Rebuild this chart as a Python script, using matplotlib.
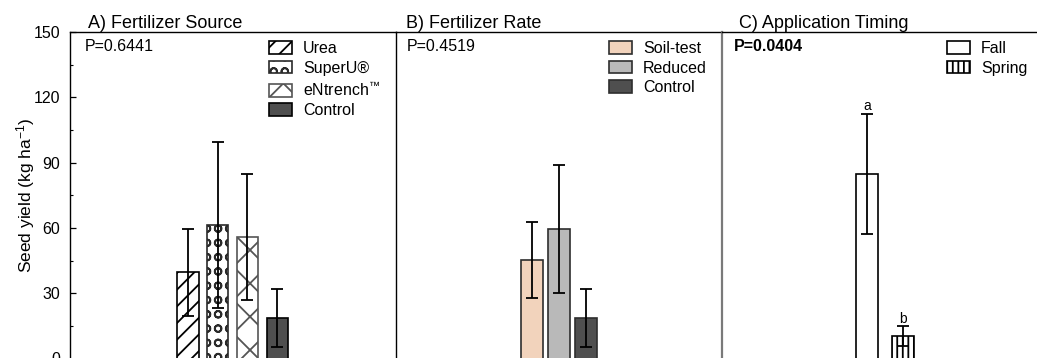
import matplotlib
matplotlib.use("Agg")
import numpy as np
import matplotlib.pyplot as plt
import matplotlib.hatch as mhatch
from matplotlib.path import Path
from matplotlib.patches import Patch
from matplotlib.ticker import MultipleLocator

plt.rcParams['font.family'] = ['Liberation Sans', 'DejaVu Sans']
plt.rcParams['mathtext.fontset'] = 'custom'
plt.rcParams['mathtext.rm'] = 'Liberation Sans'
plt.rcParams['mathtext.it'] = 'Liberation Sans:italic'
plt.rcParams['mathtext.bf'] = 'Liberation Sans:bold'
plt.rcParams['hatch.linewidth'] = 1.3


class ColumnCircles(mhatch.HatchPatternBase):
    """Hollow circles on a regular (non-staggered) grid for the 'o' hatch."""
    n_rows = 7
    n_cols = 9
    radius = 0.034
    shift = (0.07, 0.0)

    def __init__(self, hatch, density):
        circle = Path.unit_circle()
        self.shape_vertices = circle.vertices
        self.shape_codes = circle.codes
        self.active = hatch.count('o') > 0
        n_shapes = (self.n_rows + 3) * (self.n_cols + 3) if self.active else 0
        self.num_vertices = n_shapes * len(self.shape_vertices) * 2

    def set_vertices_and_codes(self, vertices, codes):
        ring = np.concatenate([self.shape_vertices * self.radius,
                               self.shape_vertices[::-1] * self.radius * 0.9])
        ring_codes = np.concatenate([self.shape_codes, self.shape_codes])
        vparts, cparts = [], []
        for i in range(-1, self.n_rows + 2):
            r = i / self.n_rows + self.shift[1]
            for j in range(-1, self.n_cols + 2):
                c = j / self.n_cols + self.shift[0]
                vparts.append(ring + (c, r))
                cparts.append(ring_codes)
        np.concatenate(vparts, out=vertices)
        np.concatenate(cparts, out=codes)


mhatch._hatch_types = [ColumnCircles if t is mhatch.SmallCircles else t
                       for t in mhatch._hatch_types]

# Seed yield means and standard errors (kg ha-1)
source_labels = ["Urea", "SuperU®", "eNtrench$^{™}$", "Control"]
source_means = [39.6, 61.3, 55.9, 18.5]
source_err = [20.1, 38.3, 28.8, 13.4]

rate_labels = ["Soil-test", "Reduced", "Control"]
rate_means = [45.1, 59.5, 18.5]
rate_err = [17.5, 29.5, 13.4]

timing_labels = ["Fall", "Spring"]
timing_means = [84.8, 10.3]
timing_err = [27.6, 4.6]
timing_letters = ["a", "b"]

p_values = ["P=0.6441", "P=0.4519", "P=0.0404"]
panel_titles = ["A) Fertilizer Source", "B) Fertilizer Rate", "C) Application Timing"]
y_ticks = [0, 30, 60, 90, 120, 150]

W, H = 1037, 358
fig = plt.figure(figsize=(W / 100, H / 100), dpi=100)


def make_axes(x0):
    return fig.add_axes([x0 / W, (H - 358.5) / H, 326 / W, 326.5 / H])


axA = make_axes(70)
axB = make_axes(396)
axC = make_axes(722)

FS = 11.5

for ax in (axA, axB, axC):
    ax.set_ylim(0, 150)
    ax.spines['right'].set_visible(False)
    ax.spines['bottom'].set_visible(False)
    ax.spines['top'].set_linewidth(1.0)
    ax.set_xticks([])
    ax.patch.set_alpha(0)

axA.set_yticks(y_ticks)
axA.yaxis.set_minor_locator(MultipleLocator(15))
axA.tick_params(axis='y', which='major', direction='in', length=4, width=0.9,
                labelsize=FS, pad=7)
axA.tick_params(axis='y', which='minor', direction='in', length=2.5, width=0.8)
axA.spines['left'].set_linewidth(1.0)
axA.set_ylabel("Seed yield (kg ha$^{-1}$)", fontsize=12.5)
axA.yaxis.set_label_coords(-0.102, 0.5)

for ax in (axB, axC):
    ax.set_yticks([])
    ax.tick_params(axis='y', which='both', left=False, labelleft=False)
axB.spines['left'].set_linewidth(1.0)
axC.spines['left'].set_color('#7a7a7a')
axC.spines['left'].set_linewidth(1.6)

err_kw = dict(fmt='none', ecolor='black', elinewidth=1.3, capsize=4,
              capthick=1.3, zorder=4)

# A) fertilizer source
xa = np.arange(1, len(source_means) + 1)
a_face = ['white', 'white', 'white', '#4f4f4f']
a_edge = ['black', '#2a2a2a', '#555555', 'black']
a_hatch = ['//', 'o', 'x', '']
barsA = axA.bar(xa, source_means, width=0.71, color=a_face, edgecolor=a_edge,
                linewidth=1.2, zorder=2)
for b, h in zip(barsA, a_hatch):
    b.set_hatch(h)
axA.errorbar(xa, source_means, yerr=source_err, **err_kw)
axA.set_xlim(-2.97, 8.0)

# B) fertilizer rate
xb = np.arange(1, len(rate_means) + 1)
b_face = ['#f2d3bc', '#b9b9b9', '#4f4f4f']
axB.bar(xb, rate_means, width=0.78, color=b_face, edgecolor='#2e2e2e',
        linewidth=1.2, zorder=2)
axB.errorbar(xb, rate_means, yerr=rate_err, **err_kw)
axB.set_xlim(-4.04, 8.04)

# C) application timing
xc = np.arange(1, len(timing_means) + 1)
c_hatch = ['', '|||']
barsC = axC.bar(xc, timing_means, width=0.6, color='white', edgecolor='black',
                linewidth=1.2, zorder=2)
for b, h in zip(barsC, c_hatch):
    b.set_hatch(h)
axC.errorbar(xc, timing_means, yerr=timing_err, **err_kw)
for x, m, e, lt in zip(xc, timing_means, timing_err, timing_letters):
    axC.text(x, m + e + 0.2, lt, ha='center', va='bottom', fontsize=10)
axC.set_xlim(-2.99, 5.99)

# Panel titles and P values
title_off = [18, 10, 17]
p_off = [15, 11, 12]
for ax, t, p, to, po, bold in zip((axA, axB, axC), panel_titles, p_values,
                                  title_off, p_off, [False, False, True]):
    ax.text(to / 326, 1.011, t, transform=ax.transAxes, fontsize=13,
            ha='left', va='baseline')
    ax.text(po / 326, 0.979, p, transform=ax.transAxes, fontsize=FS,
            ha='left', va='top', fontweight='bold' if bold else 'normal')

# Legends
leg_kw = dict(frameon=False, fontsize=FS, borderpad=0, borderaxespad=0,
              handlelength=1.44, handleheight=0.85, handletextpad=0.69,
              labelspacing=0.28, loc='upper left')

hA = [Patch(facecolor=f, edgecolor=e, hatch=h, linewidth=1.2)
      for f, e, h in zip(a_face, a_edge, a_hatch)]
axA.legend(hA, source_labels, bbox_to_anchor=(0.610, 0.972), **leg_kw)

hB = [Patch(facecolor=f, edgecolor='#2e2e2e', linewidth=1.2) for f in b_face]
axB.legend(hB, rate_labels, bbox_to_anchor=(0.653, 0.972), **leg_kw)

hC = [Patch(facecolor='white', edgecolor='black', hatch=h, linewidth=1.2)
      for h in c_hatch]
axC.legend(hC, timing_labels, bbox_to_anchor=(0.690, 0.972), **leg_kw)

fig.savefig("out.png", dpi=100)
